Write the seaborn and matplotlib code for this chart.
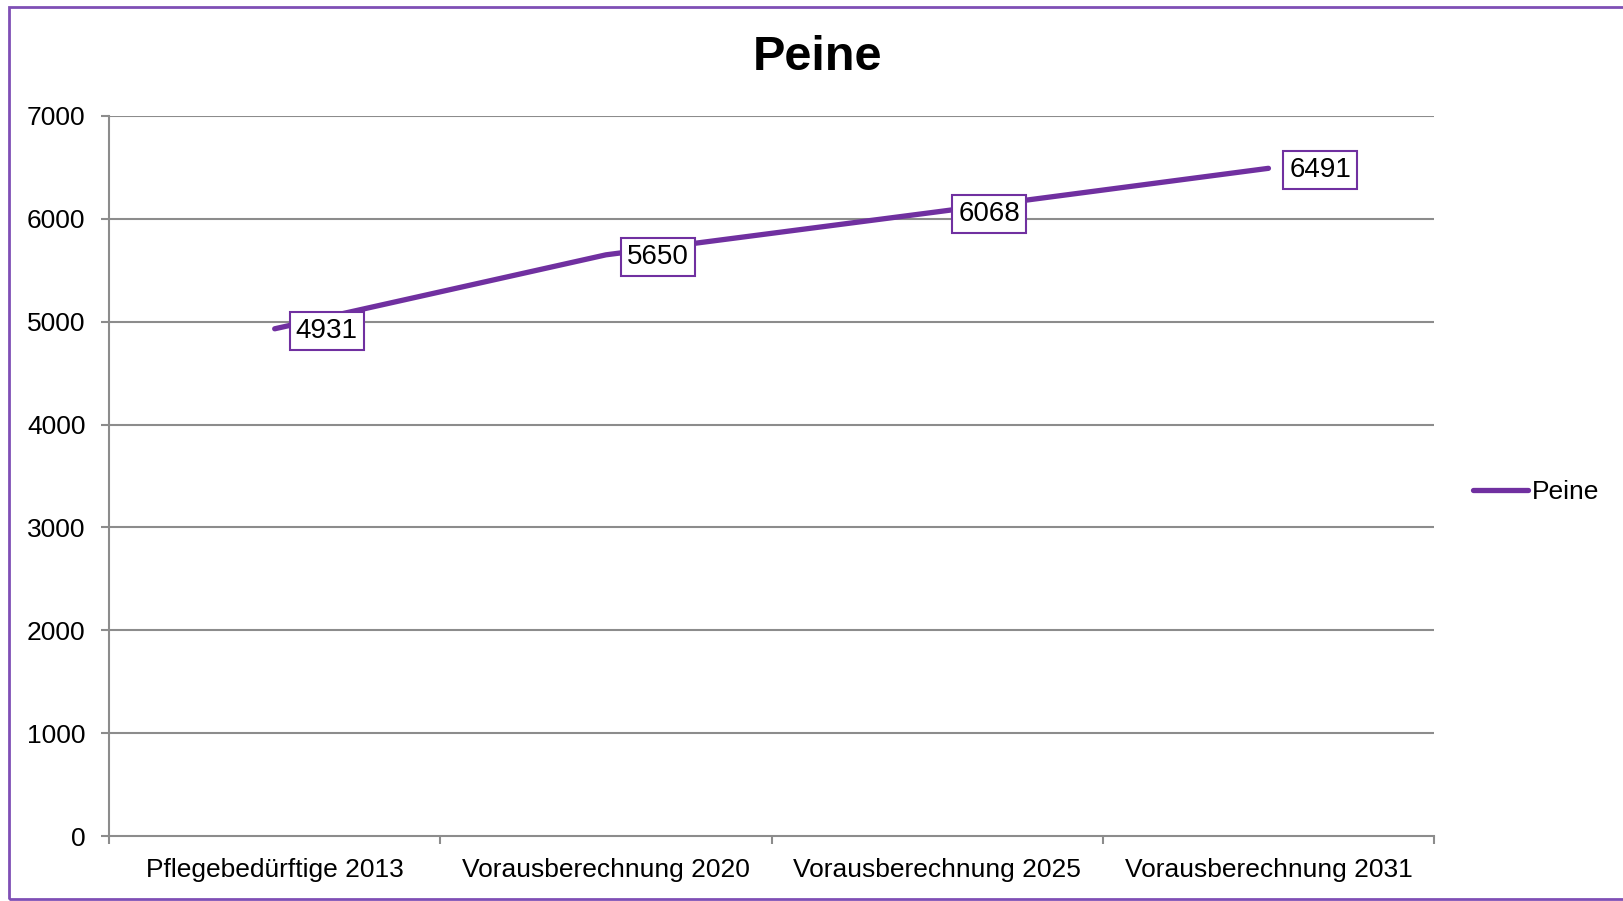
import matplotlib
matplotlib.use("Agg")
import matplotlib.pyplot as plt
import matplotlib.patches as mpatches
import pandas as pd
import seaborn as sns

# ----------------------------------------------
# Data
# ----------------------------------------------
CATEGORIES = ["Pflegebedürftige 2013", "Vorausberechnung 2020",
              "Vorausberechnung 2025", "Vorausberechnung 2031"]
VALUES = [4931, 5650, 6068, 6491]
SERIES = "Peine"
Y_TICKS = [0, 1000, 2000, 3000, 4000, 5000, 6000, 7000]

PURPLE = "#7030A0"
GRID = "#8c8c8c"

sns.set_theme(style="white")
plt.rcParams["font.family"] = ["Liberation Sans", "DejaVu Sans"]
plt.rcParams["text.color"] = "black"
plt.rcParams["xtick.labelcolor"] = "black"
plt.rcParams["ytick.labelcolor"] = "black"

df = pd.DataFrame({"Kategorie": CATEGORIES, "Wert": VALUES, "Serie": SERIES})

fig = plt.figure(figsize=(16.23, 9.01), dpi=100)
ax = fig.add_axes([0.0672, 0.0721, 0.8164, 0.7992])

sns.lineplot(data=df, x="Kategorie", y="Wert", hue="Serie",
             palette=[PURPLE], linewidth=3.8, ax=ax, legend=False,
             solid_capstyle="round")

ax.set_xlim(-0.5, len(CATEGORIES) - 0.5)
ax.set_ylim(Y_TICKS[0], Y_TICKS[-1])
ax.set_yticks(Y_TICKS)
ax.set_yticklabels([str(t) for t in Y_TICKS], fontsize=19)

# category labels centred, tick marks on boundaries
ax.set_xticks(range(len(CATEGORIES)))
ax.set_xticklabels(CATEGORIES, fontsize=19)
ax.set_xticks([i - 0.5 for i in range(len(CATEGORIES) + 1)], minor=True)
ax.tick_params(axis="x", which="both", bottom=True)
ax.tick_params(axis="x", which="major", length=0, pad=16)
ax.tick_params(axis="x", which="minor", length=6, width=1.5, color=GRID, direction="out")
ax.tick_params(axis="y", left=True, length=6, width=1.5, color=GRID, direction="out", pad=11)
ax.set_xlabel("")
ax.set_ylabel("")

for g in Y_TICKS[1:]:
    ax.axhline(g, color=GRID, linewidth=1.5, zorder=0)
ax.set_axisbelow(True)

for side in ["top", "right"]:
    ax.spines[side].set_visible(False)
for side in ["left", "bottom"]:
    ax.spines[side].set_color(GRID)
    ax.spines[side].set_linewidth(1.5)

# value labels in purple boxes
for i, v in enumerate(VALUES):
    ax.annotate(str(v), xy=(i, v), xytext=(21, -2), textcoords="offset pixels",
                ha="left", va="center", fontsize=20, color="black",
                bbox=dict(boxstyle="square,pad=0.22", fc="white", ec=PURPLE, lw=1.5),
                zorder=5)

fig.text(818 / 1623, 1 - 57 / 901, "Peine", fontsize=35, fontweight="bold",
         ha="center", va="center", color="black")

# legend
handle = plt.Line2D([], [], color=PURPLE, linewidth=3.8, solid_capstyle="round")
fig.legend([handle], [SERIES], loc="center left", bbox_to_anchor=(0.9075, 0.4535),
           frameon=False, fontsize=19, handlelength=2.1, handletextpad=0.15,
           borderaxespad=0, borderpad=0)

# purple outer border
fig.patches.append(mpatches.Rectangle((9 / 1623, 2 / 901), 1.2, 892 / 901,
                                      transform=fig.transFigure, fill=False,
                                      edgecolor="#7F4FB5", linewidth=2))

fig.savefig("out.png", dpi=100)
